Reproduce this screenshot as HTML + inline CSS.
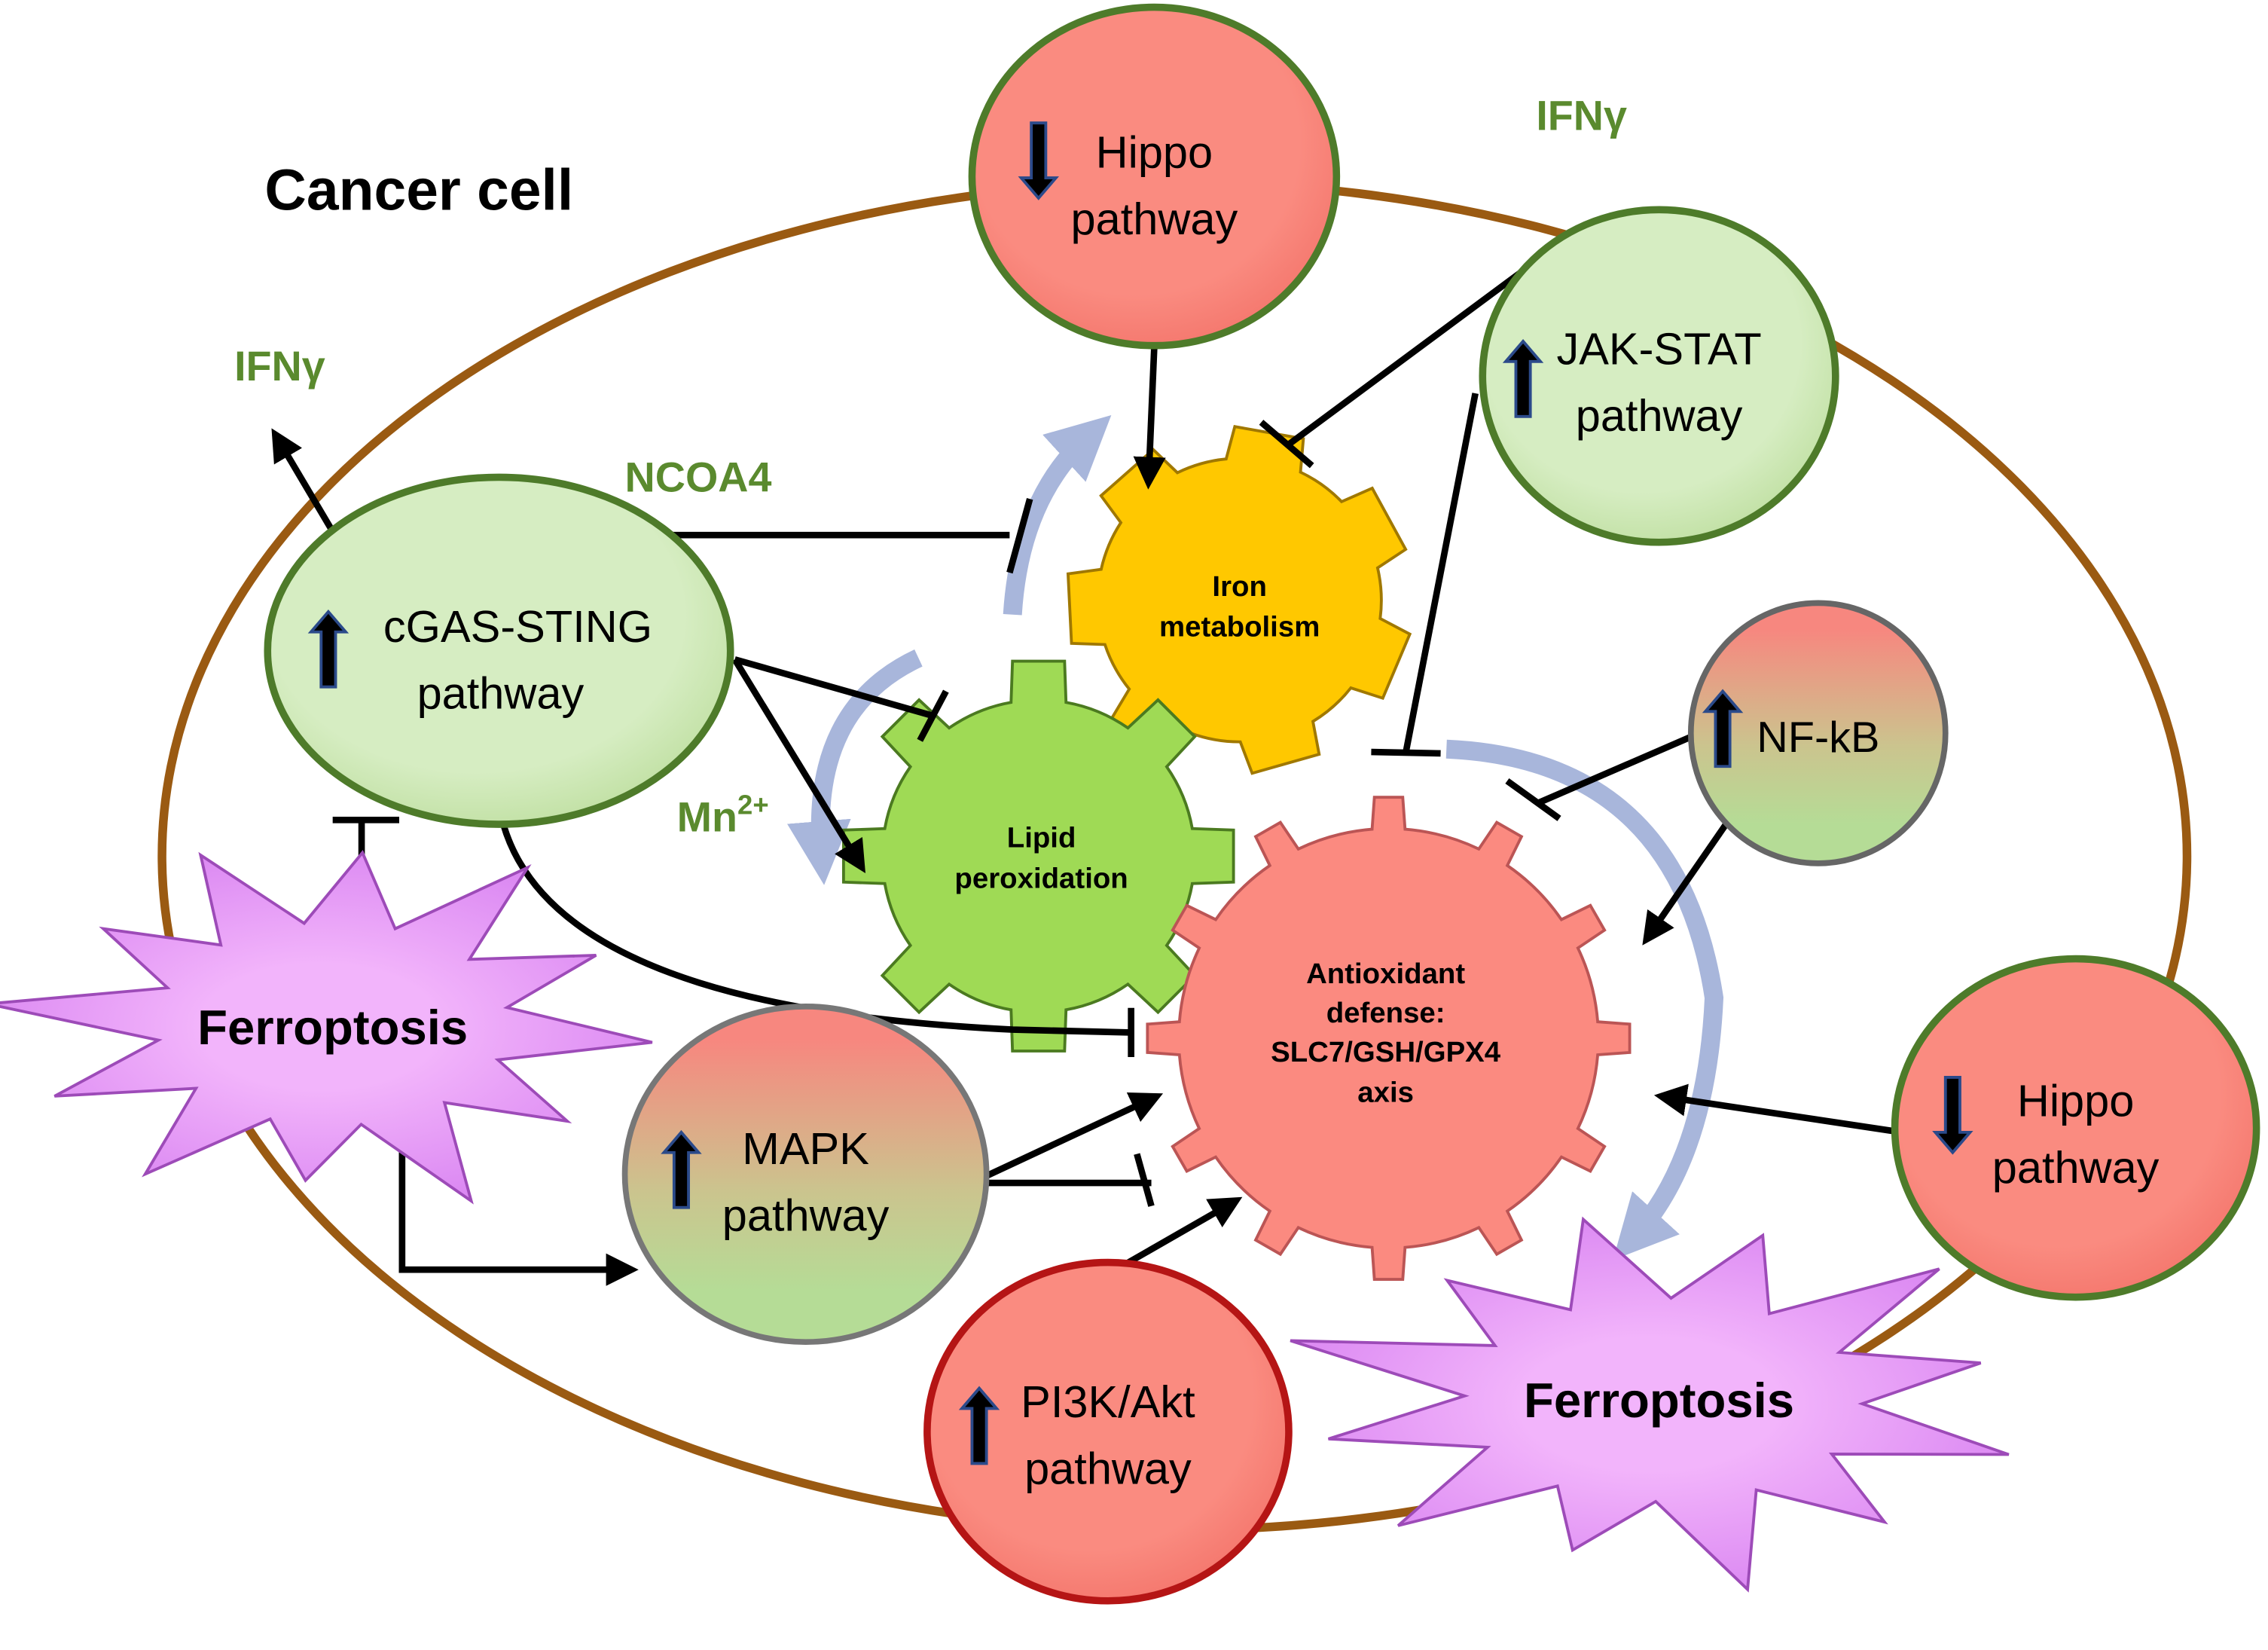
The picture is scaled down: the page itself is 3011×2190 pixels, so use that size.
<!DOCTYPE html>
<html><head><meta charset="utf-8"><style>
html,body{margin:0;padding:0;background:#fff;}
svg{display:block;}
text{font-family:"Liberation Sans","DejaVu Sans",sans-serif;}
</style></head><body>
<svg id="s" width="3011" height="2190" viewBox="0 0 1568 1141" preserveAspectRatio="none" xmlns="http://www.w3.org/2000/svg">
<defs>
<marker id="ar" viewBox="0 0 10 10" refX="8" refY="5" markerWidth="5" markerHeight="5" orient="auto"><path d="M0,0 L10,5 L0,10 z" fill="#000"/></marker>
<marker id="ab" viewBox="0 0 10 10" refX="5" refY="5" markerWidth="3.4" markerHeight="3.4" orient="auto"><path d="M0,0 L10,5 L0,10 z" fill="#a8b6db"/></marker>
<radialGradient id="gg" cx="0.45" cy="0.4" r="0.6"><stop offset="0.75" stop-color="#d6edc2"/><stop offset="1" stop-color="#c4e2a8"/></radialGradient>
<radialGradient id="rg" cx="0.45" cy="0.4" r="0.6"><stop offset="0.75" stop-color="#fa8b80"/><stop offset="1" stop-color="#f57a70"/></radialGradient>
<linearGradient id="mix" x1="0" y1="0" x2="0" y2="1"><stop offset="0.1" stop-color="#f7877f"/><stop offset="0.55" stop-color="#cbc48e"/><stop offset="0.85" stop-color="#b5dc96"/></linearGradient>
<radialGradient id="pg" cx="0.5" cy="0.5" r="0.6"><stop offset="0.3" stop-color="#f2b4fb"/><stop offset="1" stop-color="#d67ff0"/></radialGradient>
</defs>

<ellipse cx="812" cy="592" rx="700" ry="466" fill="none" stroke="#9a5a12" stroke-width="6"/>
<text x="183" y="145" font-size="40" font-weight="bold">Cancer cell</text>

<path d="M700,425 Q705,345 752,302" fill="none" stroke="#a8b6db" stroke-width="13" marker-end="url(#ab)"/>
<path d="M635,455 Q560,490 568,590" fill="none" stroke="#a8b6db" stroke-width="13" marker-end="url(#ab)"/>
<path d="M1000,518 Q1160,525 1185,690 Q1180,800 1130,855" fill="none" stroke="#a8b6db" stroke-width="13" marker-end="url(#ab)"/>

<g id="gears"></g>

<g stroke="#000" stroke-width="4.5" fill="none" stroke-linecap="butt">
<line x1="798" y1="240" x2="794" y2="334" marker-end="url(#ar)"/>
<line x1="1060" y1="182" x2="890" y2="308"/><line x1="872" y1="292" x2="907" y2="322"/>
<line x1="1020" y1="272" x2="972" y2="520"/><line x1="948" y1="520" x2="996" y2="521"/>
<line x1="452" y1="370" x2="698" y2="370"/><line x1="712" y1="345" x2="698" y2="396"/>
<line x1="508" y1="456" x2="645" y2="495"/><line x1="654" y1="478" x2="636" y2="512"/>
<line x1="508" y1="456" x2="596" y2="600" marker-end="url(#ar)"/>
<line x1="235" y1="376" x2="190" y2="300" marker-end="url(#ar)"/>
<path d="M348,570 C380,680 560,705 700,712 L782,714"/><line x1="782" y1="697" x2="782" y2="731"/>
<line x1="250" y1="635" x2="250" y2="568"/><line x1="230" y1="567" x2="276" y2="567"/>
<polyline points="278,780 278,878 437,878" marker-end="url(#ar)"/>
<line x1="678" y1="815" x2="800" y2="758" marker-end="url(#ar)"/>
<line x1="678" y1="818" x2="796" y2="818"/><line x1="786" y1="798" x2="796" y2="834"/>
<line x1="768" y1="880" x2="855" y2="830" marker-end="url(#ar)"/>
<line x1="1168" y1="510" x2="1064" y2="555"/><line x1="1042" y1="540" x2="1078" y2="566"/>
<line x1="1196" y1="566" x2="1138" y2="650" marker-end="url(#ar)"/>
<line x1="1308" y1="782" x2="1148" y2="758" marker-end="url(#ar)"/>
</g>

<g font-weight="bold" font-size="20" text-anchor="middle">
<text x="857" y="412">Iron</text><text x="857" y="440">metabolism</text>
<text x="720" y="586">Lipid</text><text x="720" y="614">peroxidation</text>
<text x="958" y="680">Antioxidant</text><text x="958" y="707">defense:</text><text x="958" y="734">SLC7/GSH/GPX4</text><text x="958" y="762">axis</text>
</g>

<ellipse cx="798" cy="122" rx="126" ry="117" fill="url(#rg)" stroke="#4e7b2a" stroke-width="5"/>
<ellipse cx="1147" cy="260" rx="122" ry="115" fill="url(#gg)" stroke="#4e7b2a" stroke-width="5"/>
<ellipse cx="345" cy="450" rx="160" ry="120" fill="url(#gg)" stroke="#4e7b2a" stroke-width="5"/>
<ellipse cx="1257" cy="507" rx="88" ry="90" fill="url(#mix)" stroke="#666" stroke-width="4"/>
<ellipse cx="1435" cy="780" rx="125" ry="117" fill="url(#rg)" stroke="#4e7b2a" stroke-width="5"/>
<ellipse cx="557" cy="812" rx="125" ry="116" fill="url(#mix)" stroke="#777" stroke-width="4"/>
<ellipse cx="766" cy="990" rx="125" ry="117" fill="url(#rg)" stroke="#b51515" stroke-width="5"/>

<polygon id="st1" fill="url(#pg)" stroke="#9d4bb8" stroke-width="2"/>
<polygon id="st2" fill="url(#pg)" stroke="#9d4bb8" stroke-width="2"/>
<text x="230" y="722" font-size="34" font-weight="bold" text-anchor="middle">Ferroptosis</text>
<text x="1147" y="980" font-size="34" font-weight="bold" text-anchor="middle">Ferroptosis</text>

<g fill="#000" stroke="#2b4a8a" stroke-width="2">
<path d="M713,85 h10 v38 h7 l-12,14 l-12,-14 h7 z"/>
<path d="M1345,745 h10 v38 h7 l-12,14 l-12,-14 h7 z"/>
<path d="M1048,288 h10 v-38 h7 l-12,-14 l-12,14 h7 z"/>
<path d="M222,475 h10 v-38 h7 l-12,-14 l-12,14 h7 z"/>
<path d="M1186,530 h10 v-38 h7 l-12,-14 l-12,14 h7 z"/>
<path d="M466,835 h10 v-38 h7 l-12,-14 l-12,14 h7 z"/>
<path d="M672,1012 h10 v-38 h7 l-12,-14 l-12,14 h7 z"/>
</g>

<g font-size="31" text-anchor="middle">
<text x="798" y="116">Hippo</text><text x="798" y="162">pathway</text>
<text x="1147" y="252">JAK-STAT</text><text x="1147" y="298">pathway</text>
<text x="358" y="444">cGAS-STING</text><text x="346" y="490">pathway</text>
<text x="1257" y="520" font-size="30">NF-kB</text>
<text x="1435" y="772">Hippo</text><text x="1435" y="818">pathway</text>
<text x="557" y="805">MAPK</text><text x="557" y="851">pathway</text>
<text x="766" y="980">PI3K/Akt</text><text x="766" y="1026">pathway</text>
</g>

<g fill="#5a8a2e" font-weight="bold" font-size="29">
<text x="1062" y="90">IFNγ</text>
<text x="162" y="263">IFNγ</text>
<text x="432" y="340">NCOA4</text>
<text x="468" y="575">Mn<tspan font-size="19" dy="-12">2+</tspan></text>
</g>
</svg>
<script>
function gear(cx,cy,R,h,n,tw,rot,fill,stroke){
  var d="",a0=rot*Math.PI/180;
  for(var i=0;i<n;i++){
    var a=a0+i*2*Math.PI/n, s=Math.PI/n;
    var pts=[[a-s*tw*1.0,R],[a-s*tw*0.75,R+h],[a+s*tw*0.75,R+h],[a+s*tw*1.0,R]];
    pts.forEach(function(p,j){var x=cx+p[1]*Math.cos(p[0]),y=cy+p[1]*Math.sin(p[0]);d+=(i==0&&j==0?"M":"L")+x.toFixed(1)+","+y.toFixed(1);});
    var nx=a+2*Math.PI/n-s*tw*1.0;
    d+="A"+R+","+R+" 0 0 1 "+(cx+R*Math.cos(nx)).toFixed(1)+","+(cy+R*Math.sin(nx)).toFixed(1);
  }
  return '<path d="'+d+'Z" fill="'+fill+'" stroke="'+stroke+'" stroke-width="2"/>';
}
var g=document.getElementById("gears");
g.innerHTML=gear(857,415,98,22,7,0.6,-80,"#ffc800","#a07800")+
 gear(718,592,108,28,8,0.45,-90,"#9fda55","#4b7a20")+
 gear(960,718,145,22,12,0.3,-90,"#fb8a80","#b55");
function star(id,cx,cy,rx,ry,n,inner,rot){
  var p=[],r=[1,0.9,1.05,0.85,1,0.95,1.08,0.88,1,0.93,1.04,0.9];
  for(var i=0;i<2*n;i++){var a=rot+i*Math.PI/n;var k=i%2==0?r[(i/2)%r.length]:inner;
   p.push((cx+rx*k*Math.cos(a)).toFixed(1)+","+(cy+ry*k*Math.sin(a)).toFixed(1));}
  document.getElementById(id).setAttribute("points",p.join(" "));
}
star("st1",230,708,222,128,12,0.55,0.1);
star("st2",1150,968,250,128,12,0.55,0.3);
</script>
</body></html>
